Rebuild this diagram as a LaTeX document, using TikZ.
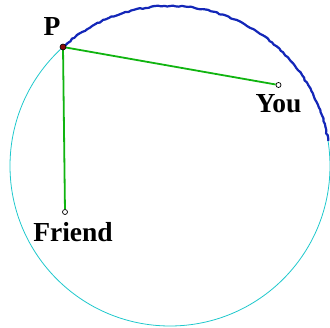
\documentclass[tikz,border=0pt]{standalone}
\usepackage{fontspec}
\setmainfont{Liberation Serif}
\usepackage{tikz}
\usetikzlibrary{positioning, decorations.pathmorphing}
\definecolor{rimcyan}{HTML}{1FC8CC}
\definecolor{pathblue}{HTML}{1426B8}
\definecolor{segreen}{HTML}{10B410}
\definecolor{ptred}{HTML}{8A0A0A}
\tikzset{
  rim/.style      = {draw=rimcyan, line width=0.8pt},
  walkarc/.style  = {draw=pathblue, line width=2.2pt, line join=round,
                     decorate, decoration={random steps, segment length=3pt, amplitude=0.7pt}},
  sightln/.style  = {draw=segreen, line width=1.8pt},
  ppt/.style      = {circle, fill=ptred, draw=black, line width=0.6pt,
                     minimum size=6pt, inner sep=0pt},
  opt/.style      = {circle, fill=white, draw=black, line width=0.7pt,
                     minimum size=5pt, inner sep=0pt},
  lab/.style      = {font=\fontsize{27.5}{28}\selectfont\bfseries, inner sep=0pt},
}

\begin{document}
\begin{tikzpicture}[x=1pt, y=-1pt]
  \useasboundingbox (0,0) rectangle (330,328);
  \coordinate (ctr) at (170,166);
  \draw[rim] (ctr) circle[radius=160];
  \coordinate (pc) at (63,47);
  \draw[walkarc] (pc) arc[start angle=-132, end angle=-9, radius=160];
  \node[opt] (you) at (278.5,85) {};
  \node[opt] (friend) at (65,212) {};
  \draw[sightln] (pc) -- (you);
  \draw[sightln] (pc) -- (friend);
  \node[ppt] (p) at (pc) {};
  \node[lab] (plab) at (52,27) {P};
  \node[lab, below=6pt of you] (youlab) {You};
  \node[lab, below=7pt of friend, xshift=8pt] (friendlab) {Friend};
\end{tikzpicture}
\end{document}
